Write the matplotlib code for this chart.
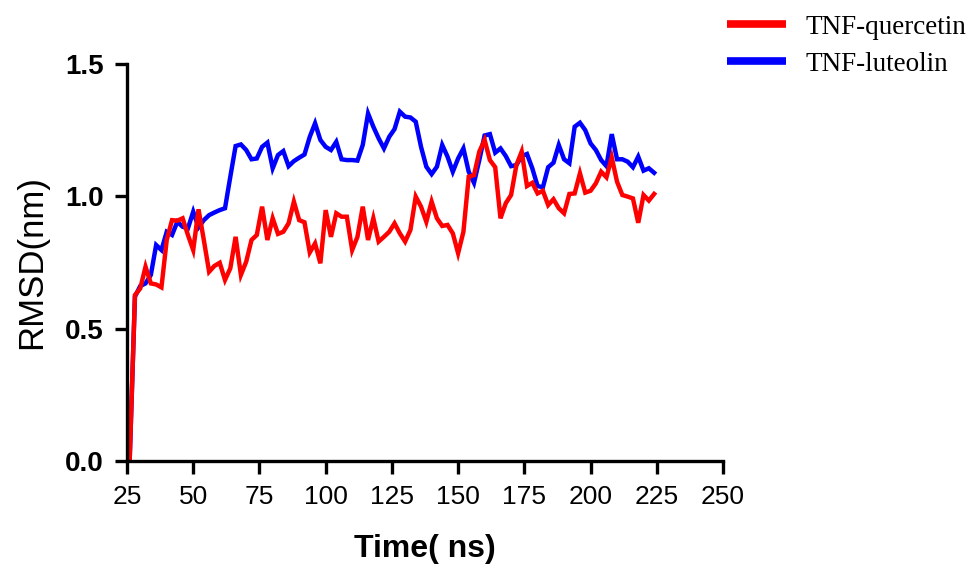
import matplotlib
matplotlib.use("Agg")
import matplotlib.pyplot as plt
import numpy as np

time_ns = list(range(26, 226, 2))

tnf_quercetin = [
    0.0, 0.627, 0.652, 0.734, 0.671, 0.667, 0.656, 0.835, 0.910, 0.908,
    0.917, 0.854, 0.797, 0.951, 0.835, 0.715, 0.737, 0.749, 0.684, 0.728,
    0.847, 0.703, 0.753, 0.835, 0.854, 0.961, 0.835, 0.917, 0.858, 0.866,
    0.898, 0.980, 0.910, 0.902, 0.788, 0.822, 0.747, 0.948, 0.847, 0.936,
    0.923, 0.923, 0.797, 0.847, 0.961, 0.835, 0.917, 0.829, 0.847, 0.866,
    0.898, 0.860, 0.829, 0.873, 0.999, 0.961, 0.904, 0.980, 0.917, 0.888,
    0.892, 0.860, 0.785, 0.866, 1.074, 1.080, 1.169, 1.213, 1.137, 1.110,
    0.917, 0.974, 1.005, 1.118, 1.169, 1.039, 1.051, 1.011, 1.021, 0.967,
    0.989, 0.955, 0.936, 1.009, 1.011, 1.087, 1.014, 1.021, 1.049, 1.093,
    1.072, 1.147, 1.055, 1.005, 0.999, 0.992, 0.900, 1.005, 0.984, 1.009,
]

tnf_luteolin = [
    0.0, 0.621, 0.661, 0.671, 0.703, 0.816, 0.797, 0.866, 0.854, 0.904,
    0.885, 0.879, 0.942, 0.883, 0.910, 0.929, 0.939, 0.948, 0.955, 1.074,
    1.190, 1.196, 1.175, 1.140, 1.143, 1.187, 1.203, 1.106, 1.156, 1.171,
    1.114, 1.133, 1.146, 1.158, 1.225, 1.276, 1.213, 1.187, 1.175, 1.206,
    1.140, 1.137, 1.137, 1.135, 1.194, 1.313, 1.263, 1.219, 1.181, 1.225,
    1.254, 1.320, 1.301, 1.298, 1.282, 1.187, 1.112, 1.084, 1.112, 1.194,
    1.150, 1.093, 1.143, 1.181, 1.093, 1.051, 1.137, 1.230, 1.235, 1.165,
    1.181, 1.152, 1.114, 1.118, 1.152, 1.160, 1.106, 1.039, 1.034, 1.110,
    1.127, 1.194, 1.140, 1.125, 1.263, 1.278, 1.250, 1.200, 1.175, 1.137,
    1.114, 1.235, 1.140, 1.140, 1.131, 1.110, 1.150, 1.097, 1.106, 1.089,
]

x_ticks = [25, 50, 75, 100, 125, 150, 175, 200, 225, 250]
y_ticks = [0.0, 0.5, 1.0, 1.5]

fig = plt.figure(figsize=(9.76, 5.65), dpi=100)
ax = fig.add_axes([127/976, 104/565, (723-127)/976, (461-64)/565])

l_blue, = ax.plot(time_ns, tnf_luteolin, color="#0000FF", lw=3.2, label="TNF-luteolin",
                  solid_joinstyle="miter")
l_red, = ax.plot(time_ns, tnf_quercetin, color="#FF0000", lw=3.2, label="TNF-quercetin",
                 solid_joinstyle="miter")

ax.set_xlim(25, 250)
ax.set_ylim(0, 1.5)
ax.set_xticks(x_ticks)
ax.set_yticks(y_ticks)
ax.set_xticklabels([str(v) for v in x_ticks], fontsize=19, family="Liberation Sans")
ax.set_yticklabels([f"{v:.1f}" for v in y_ticks], fontsize=20, family="Liberation Sans",
                   fontweight="bold")

for s in ["top", "right"]:
    ax.spines[s].set_visible(False)
for s in ["left", "bottom"]:
    ax.spines[s].set_linewidth(2.4)
    ax.spines[s].set_color("black")
ax.tick_params(axis="both", direction="out", length=9, width=2.4, color="black")
ax.tick_params(axis="x", pad=8)
ax.tick_params(axis="y", pad=8)

ax.set_ylabel("RMSD(nm)", fontsize=25, family="Liberation Sans", labelpad=12)
ax.set_xlabel("Time( ns)", fontsize=23, family="Liberation Sans", fontweight="bold",
              labelpad=18)

leg = fig.legend(handles=[l_red, l_blue], loc="upper left",
                 bbox_to_anchor=(713/976, 1 - 1/565), frameon=False,
                 prop={"family": "Liberation Serif", "size": 19.5},
                 handlelength=2.2, handletextpad=0.7, labelspacing=0.45, borderpad=0.0)
for h in leg.get_lines():
    h.set_linewidth(5.5)
    h.set_solid_capstyle("butt")

fig.savefig("out.png", dpi=100)
